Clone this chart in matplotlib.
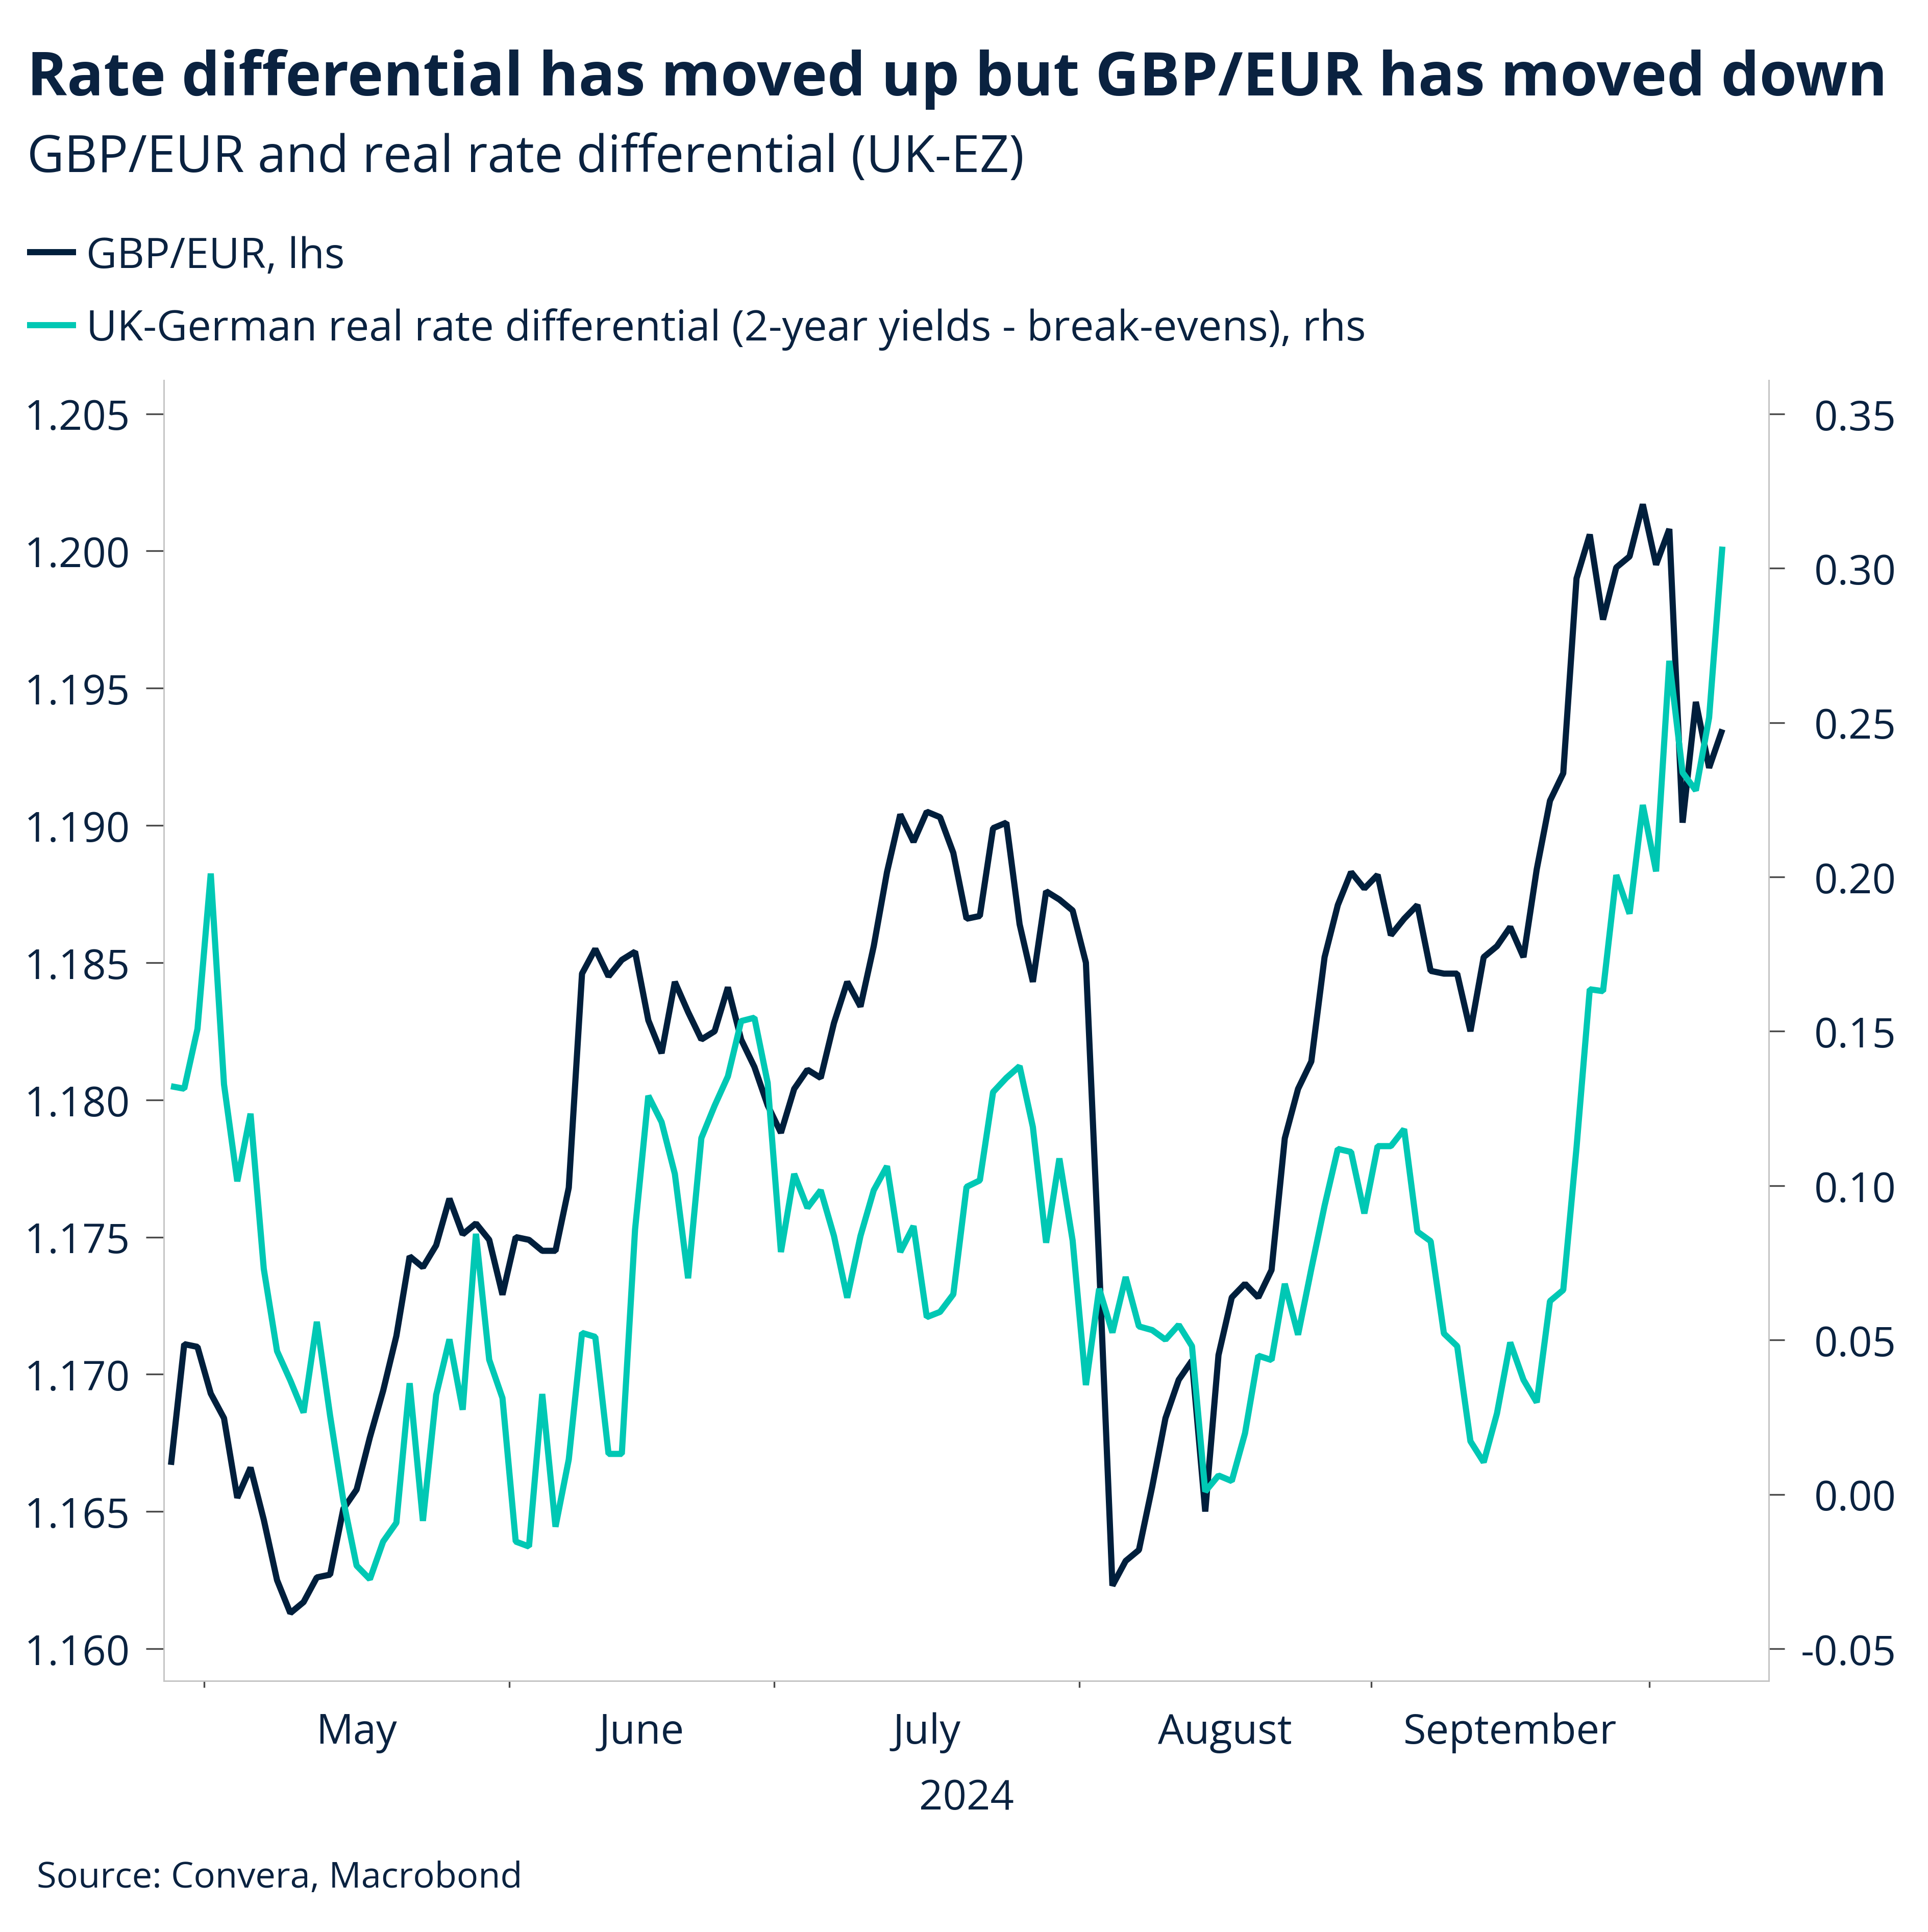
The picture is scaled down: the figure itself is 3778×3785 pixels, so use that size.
import numpy as np
import pandas as pd
import matplotlib
matplotlib.use('Agg')
import matplotlib.pyplot as plt

plt.rcParams['font.family'] = ['Open Sans', 'DejaVu Sans']

# business days on the chart (Macrobond plots on a business-day axis)
dates = pd.bdate_range('2024-04-26', '2024-10-08')

# GBP/EUR, lhs
gbpeur = [1.1667, 1.1711, 1.1710, 1.1693, 1.1684, 1.1655, 1.1666, 1.1647, 1.1625, 1.1613,
          1.1617, 1.1626, 1.1627, 1.1651, 1.1658, 1.1677, 1.1694, 1.1714, 1.1743, 1.1739,
          1.1747, 1.1764, 1.1751, 1.1755, 1.1749, 1.1729, 1.1750, 1.1749, 1.1745, 1.1745,
          1.1768, 1.1846, 1.1855, 1.1845, 1.1851, 1.1854, 1.1829, 1.1817, 1.1843, 1.1832,
          1.1822, 1.1825, 1.1841, 1.1822, 1.1812, 1.1798, 1.1788, 1.1804, 1.1811, 1.1808,
          1.1828, 1.1843, 1.1834, 1.1856, 1.1883, 1.1904, 1.1894, 1.1905, 1.1903, 1.1890,
          1.1866, 1.1867, 1.1899, 1.1901, 1.1864, 1.1843, 1.1876, 1.1873, 1.1869, 1.1850,
          1.1740, 1.1623, 1.1632, 1.1636, 1.1659, 1.1684, 1.1698, 1.1705, 1.1650, 1.1707,
          1.1728, 1.1733, 1.1728, 1.1738, 1.1786, 1.1804, 1.1814, 1.1852, 1.1871, 1.1883,
          1.1877, 1.1882, 1.1860, 1.1866, 1.1871, 1.1847, 1.1846, 1.1846, 1.1825, 1.1852,
          1.1856, 1.1863, 1.1852, 1.1884, 1.1909, 1.1919, 1.1990, 1.2006, 1.1975, 1.1994,
          1.1998, 1.2017, 1.1995, 1.2008, 1.1901, 1.1945, 1.1921, 1.1935]

# UK-German real rate differential, rhs
realdiff = [0.1322, 0.1314, 0.1508, 0.2011, 0.1328, 0.1014, 0.1233, 0.0730, 0.0464, 0.0369,
            0.0265, 0.0559, 0.0255, -0.0020, -0.0231, -0.0275, -0.0153, -0.0092, 0.0360, -0.0086,
            0.0322, 0.0502, 0.0274, 0.0844, 0.0436, 0.0312, -0.0153, -0.0169, 0.0325, -0.0105,
            0.0113, 0.0523, 0.0510, 0.0131, 0.0131, 0.0858, 0.1291, 0.1206, 0.1038, 0.0700,
            0.1154, 0.1259, 0.1354, 0.1533, 0.1544, 0.1333, 0.0785, 0.1038, 0.0928, 0.0985,
            0.0837, 0.0637, 0.0837, 0.0985, 0.1063, 0.0785, 0.0869, 0.0574, 0.0591, 0.0648,
            0.0996, 0.1017, 0.1303, 0.1349, 0.1387, 0.1190, 0.0815, 0.1088, 0.0822, 0.0354,
            0.0666, 0.0524, 0.0704, 0.0544, 0.0532, 0.0501, 0.0549, 0.0480, 0.0009, 0.0061,
            0.0043, 0.0198, 0.0449, 0.0435, 0.0682, 0.0517, 0.0730, 0.0935, 0.1119, 0.1109,
            0.0910, 0.1128, 0.1128, 0.1183, 0.0851, 0.0820, 0.0521, 0.0480, 0.0172, 0.0104,
            0.0262, 0.0492, 0.0371, 0.0298, 0.0626, 0.0662, 0.1123, 0.1636, 0.1630, 0.2006,
            0.1881, 0.2233, 0.2018, 0.2700, 0.2338, 0.2280, 0.2516, 0.3070]

left_ticks = [1.160, 1.165, 1.170, 1.175, 1.180, 1.185, 1.190, 1.195, 1.200, 1.205]
right_ticks = [-0.05, 0.00, 0.05, 0.10, 0.15, 0.20, 0.25, 0.30, 0.35]

title = 'Rate differential has moved up but GBP/EUR has moved down'
subtitle = 'GBP/EUR and real rate differential (UK-EZ)'
series_names = ['GBP/EUR, lhs',
                'UK-German real rate differential (2-year yields - break-evens), rhs']
source = 'Source: Convera, Macrobond'

navy = '#0A2240'
dark = '#001F3C'
teal = '#00C8B4'
spinec = '#C4C4C4'
tickc = '#4A4A4A'

W, H = 3779, 3786
DPI = 300
fig = plt.figure(figsize=(W / DPI, H / DPI), dpi=DPI)
rend = fig.canvas.get_renderer()


def fitted_size(s, width_px, weight='normal', start=20.0):
    # font size that makes s about width_px wide
    t = fig.text(0, 0, s, fontsize=start, fontweight=weight)
    w = t.get_window_extent(renderer=rend).width
    t.remove()
    return start * width_px / w


# plot area in pixels: x 321..3466, y 746..3294
ax = fig.add_axes([321 / W, 1 - 3294 / H, (3466 - 321) / W, (3294 - 746) / H])
ax2 = ax.twinx()

x = np.arange(len(dates))
l1, = ax.plot(x, gbpeur, color=dark, lw=2.9, solid_joinstyle='bevel', solid_capstyle='butt')
l2, = ax2.plot(x, realdiff, color=teal, lw=2.9, solid_joinstyle='bevel', solid_capstyle='butt')

ax.set_xlim(-0.54, 120.5)
ax.set_ylim(1.15883, 1.20622)
ax2.set_ylim(-0.06042, 0.36088)

# month boundaries as ticks, month names centred in between
month = dates.month
starts = [i for i in range(1, len(dates)) if month[i] != month[i - 1]]
bounds = [s - 0.5 for s in starts]
mids = [(a + b) / 2 for a, b in zip(bounds[:-1], bounds[1:])]
names = [dates[s].strftime('%B') for s in starts[:-1]]

tick_fs = 19.5
ax.set_xticks(bounds)
ax.set_xticklabels([''] * len(bounds))
ax.set_xticks(mids, minor=True)
ax.set_xticklabels(names, minor=True)
ax.tick_params(axis='x', which='major', length=3.1, width=0.8, color=tickc, direction='out')
ax.tick_params(axis='x', which='minor', length=0, pad=14.5, labelsize=tick_fs, labelcolor=navy)

ax.set_yticks(left_ticks)
ax.set_yticklabels(['%.3f' % v for v in left_ticks])
ax.tick_params(axis='y', length=8.5, width=0.8, color=tickc, pad=7.4,
               labelsize=tick_fs, labelcolor=navy)

ax2.set_yticks(right_ticks)
ax2.set_yticklabels(['%.2f' % v for v in right_ticks])
ax2.tick_params(axis='y', length=7.5, width=0.8, color=tickc, pad=52.5,
                labelsize=tick_fs, labelcolor=navy)
for t in ax2.get_yticklabels():
    t.set_horizontalalignment('right')

for a in (ax, ax2):
    for sp in a.spines.values():
        sp.set_visible(False)
        sp.set_color(spinec)
        sp.set_linewidth(0.7)
ax.spines['left'].set_visible(True)
ax.spines['bottom'].set_visible(True)
ax2.spines['right'].set_visible(True)

ax.set_xlabel('2024', fontsize=tick_fs, color=navy)
ax.xaxis.label.set_verticalalignment('baseline')
ax.xaxis.set_label_coords(0.5, ((H - 3545) - (H - 3294)) / (3294 - 746))

# titles
fig.text(53 / W, 1 - 187 / H, title, fontsize=fitted_size(title, 3647, 'bold'),
         fontweight='bold', color=navy, va='baseline', ha='left')
fig.text(53 / W, 1 - 337 / H, subtitle, fontsize=fitted_size(subtitle, 1952),
         color=navy, va='baseline', ha='left')

leg_fs = fitted_size(series_names[1], 2506)
fig.legend([l1, l2], series_names, loc='upper left', bbox_to_anchor=(53 / W, 1 - 462 / H),
           frameon=False, fontsize=leg_fs, labelcolor=navy,
           handlelength=23.0 / leg_fs, handletextpad=4.8 / leg_fs,
           labelspacing=0.72, borderpad=0, borderaxespad=0)

fig.text(72 / W, 1 - 3698 / H, source, fontsize=fitted_size(source, 952),
         color=navy, va='baseline', ha='left')

fig.savefig('out.png', dpi=DPI)
